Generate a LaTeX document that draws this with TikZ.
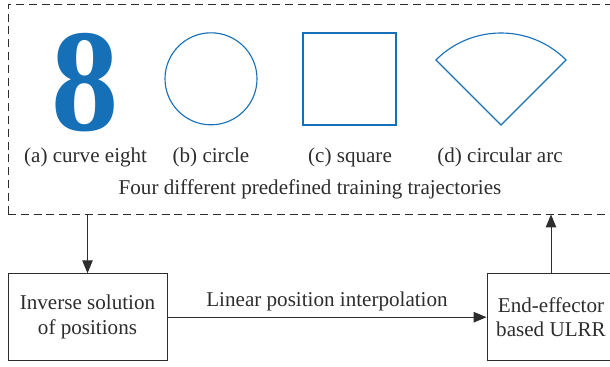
\documentclass[tikz,border=0pt]{standalone}
\usepackage{fontspec}
\setmainfont{Liberation Serif}
\usetikzlibrary{arrows.meta}
\definecolor{trajblue}{RGB}{22,112,184}
\definecolor{inkgray}{RGB}{45,45,45}
\begin{document}
\begin{tikzpicture}[font=\fontsize{15}{17.5}\selectfont, text=inkgray,
  block/.style={draw=inkgray, line width=0.7pt, minimum width=#1,
                minimum height=2.175cm, align=center},
  trajline/.style={draw=trajblue, line width=0.8pt},
  arr/.style={-{Triangle[length=0.32cm,width=0.26cm]}, line width=0.7pt, draw=inkgray}
]
  \useasboundingbox (0,0) rectangle (15.25,-9.15);
  % Cadre des trajectoires
  \node[draw=inkgray, dashed, dash pattern=on 0.2cm off 0.12cm, line width=0.7pt,
        minimum width=15.175cm, minimum height=5.25cm] (traj) at (7.7875,-2.725) {};
  % Quatre trajectoires
  \node[text=trajblue, inner sep=0pt, xscale=0.92,
        font=\fontsize{104}{104}\selectfont\bfseries] (eight) at (2.125,-2.075) {8};
  \draw[trajline] (5.275,-1.97) circle[radius=1.15];
  \draw[trajline] (7.575,-0.825) rectangle (9.9,-3.125);
  \draw[trajline] (12.525,-3.125) -- ++(45:2.3) arc[start angle=45, end angle=135, radius=2.3] -- cycle;
  % Légendes
  \node (la) at (2.14,-3.925) {(a) curve eight};
  \node (lb) at (5.275,-3.925) {(b) circle};
  \node (lc) at (8.75,-3.925)  {(c) square};
  \node (ld) at (12.5,-3.925)  {(d) circular arc};
  \node (title) at (7.75,-4.725) {Four different predefined training trajectories};
  % Blocs
  \node[block=3.975cm] (inv) at (2.1875,-7.93) {Inverse solution\\of positions};
  \node[block=3.2cm]   (eff) at (13.775,-7.93) {End-effector\\based ULRR};
  % Flèches
  \draw[arr] (traj.south -| inv.north) -- (inv.north);
  \draw[arr] (inv.east) -- node[above=1pt] {Linear position interpolation} (eff.west);
  \draw[arr] (eff.north) -- (traj.south -| eff.north);
\end{tikzpicture}
\end{document}
